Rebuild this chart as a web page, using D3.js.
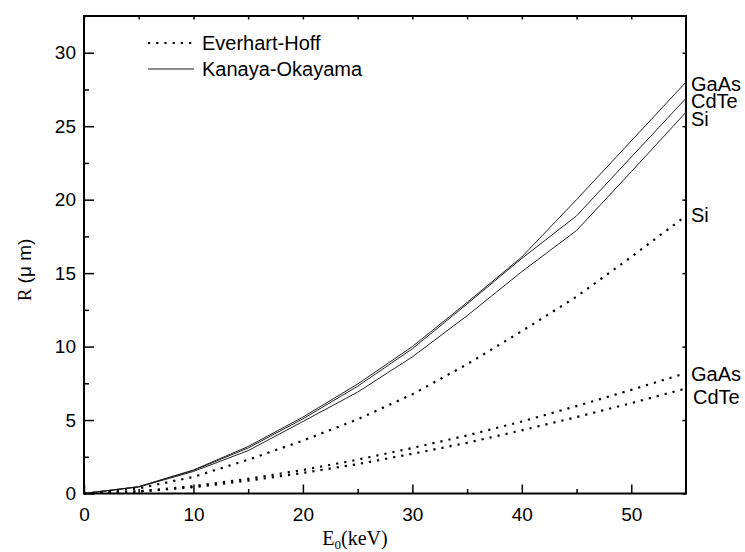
<!DOCTYPE html>
<html>
<head>
<meta charset="utf-8">
<script src="https://cdn.jsdelivr.net/npm/d3@7"></script>
<style>
  body { margin: 0; background: #fff; }
  .tick text { font-family: Arial, "Liberation Sans", sans-serif; font-size: 19px; fill: #000; }
  .tick line { stroke: #000; stroke-width: 1.5; }
</style>
</head>
<body>
<div id="chart"></div>
<script>

// beam energy (keV)
var energy = [0, 5, 10, 15, 20, 25, 30, 35, 40, 45, 50, 55];

// Kanaya-Okayama range (um)
var koGaAs = [0, 0.47, 1.6, 3.2, 5.2, 7.45, 10.0, 13.0, 16.1, 20.0, 24.0, 28.0];
var koCdTe = [0, 0.46, 1.57, 3.1, 5.08, 7.3, 9.85, 12.9, 16.0, 18.9, 22.9, 26.9];
var koSi   = [0, 0.44, 1.5, 2.92, 4.9, 6.9, 9.3, 12.1, 15.1, 17.9, 21.9, 25.95];

// Everhart-Hoff range (um)
var ehSi   = [0, 0.35, 1.13, 2.3, 3.6, 5.05, 6.75, 8.8, 11.05, 13.4, 16.1, 18.9];
var ehGaAs = [0, 0.15, 0.5, 1.0, 1.6, 2.3, 3.1, 3.95, 4.9, 5.95, 7.05, 8.2];
var ehCdTe = [0, 0.13, 0.43, 0.87, 1.4, 2.0, 2.7, 3.45, 4.3, 5.2, 6.15, 7.15];

var xMajor = [0, 10, 20, 30, 40, 50],
    xMinor = [5, 15, 25, 35, 45],
    yMajor = [0, 5, 10, 15, 20, 25, 30],
    yMinor = [2.5, 7.5, 12.5, 17.5, 22.5, 27.5];

var legendNames = ["Everhart-Hoff", "Kanaya-Okayama"];

var series = [
  { name: "GaAs", values: koGaAs, dotted: false, dy: 9 },
  { name: "CdTe", values: koCdTe, dotted: false, dy: 10 },
  { name: "Si",   values: koSi,   dotted: false, dy: 14 },
  { name: "Si",   values: ehSi,   dotted: true,  dy: 6 },
  { name: "GaAs", values: ehGaAs, dotted: true,  dy: 8 },
  { name: "CdTe", values: ehCdTe, dotted: true,  dy: 16, dx: 2 }
];

var W = 745, H = 552;
var margin = { left: 84, right: 59, top: 16, bottom: 58.5 };

var svg = d3.select("#chart").append("svg").attr("width", W).attr("height", H);

var x = d3.scaleLinear().domain([0, 55]).range([margin.left, W - margin.right]),
    y = d3.scaleLinear().domain([0, 32.5]).range([H - margin.bottom, margin.top]);

var bottom = H - margin.bottom, right = W - margin.right;

// axes (ticks point inward)
svg.append("g").attr("transform", "translate(0," + bottom + ")")
   .call(d3.axisBottom(x).tickValues(xMajor).tickSize(-9).tickPadding(14).tickFormat(d3.format("d")))
   .call(function(g) { g.select(".domain").remove(); g.selectAll("text").attr("dy", "0.71em"); });

svg.append("g").attr("transform", "translate(0," + bottom + ")")
   .call(d3.axisBottom(x).tickValues(xMinor).tickSize(-4.5).tickFormat(""))
   .call(function(g) { g.select(".domain").remove(); });

svg.append("g").attr("transform", "translate(" + margin.left + ",0)")
   .call(d3.axisLeft(y).tickValues(yMajor).tickSize(-10).tickPadding(8).tickFormat(d3.format("d")))
   .call(function(g) { g.select(".domain").remove(); });

svg.append("g").attr("transform", "translate(" + margin.left + ",0)")
   .call(d3.axisLeft(y).tickValues(yMinor).tickSize(-5).tickFormat(""))
   .call(function(g) { g.select(".domain").remove(); });

// small ticks on top and right
svg.append("g").attr("transform", "translate(0," + margin.top + ")")
   .call(d3.axisTop(x).tickValues(xMajor.concat(xMinor)).tickSize(-3.5).tickFormat(""))
   .call(function(g) { g.select(".domain").remove(); });

svg.append("g").attr("transform", "translate(" + right + ",0)")
   .call(d3.axisRight(y).tickValues(yMajor).tickSize(-3.5).tickFormat(""))
   .call(function(g) { g.select(".domain").remove(); });

// frame
svg.append("rect")
   .attr("x", margin.left).attr("y", margin.top)
   .attr("width", right - margin.left).attr("height", bottom - margin.top)
   .attr("fill", "none").attr("stroke", "#000").attr("stroke-width", 2);

// curves
var line = d3.line()
  .x(function(d, i) { return x(energy[i]); })
  .y(function(d) { return y(d); });

svg.selectAll(".curve").data(series).enter().append("path")
   .attr("class", "curve")
   .attr("d", function(d) { return line(d.values); })
   .attr("fill", "none")
   .attr("stroke", function(d) { return d.dotted ? "#000" : "#222"; })
   .attr("stroke-width", function(d) { return d.dotted ? 2.2 : 1; })
   .attr("stroke-dasharray", function(d) { return d.dotted ? "2.2,6" : null; });

// end labels
svg.selectAll(".endlabel").data(series).enter().append("text")
   .attr("class", "endlabel")
   .attr("x", function(d) { return right + 5 + (d.dx || 0); })
   .attr("y", function(d) { return y(d.values[d.values.length - 1]) + d.dy; })
   .style("font-family", "Arial, 'Liberation Sans', sans-serif")
   .style("font-size", "20px")
   .text(function(d) { return d.name; });

// legend
var legend = svg.append("g").attr("transform", "translate(148,43)");

legend.selectAll("line").data(legendNames).enter().append("line")
   .attr("x1", 0).attr("x2", function(d, i) { return i ? 46 : 44; })
   .attr("y1", function(d, i) { return i * 26; }).attr("y2", function(d, i) { return i * 26; })
   .attr("stroke", function(d, i) { return i ? "#666" : "#000"; })
   .attr("stroke-width", function(d, i) { return i ? 1.5 : 2.2; })
   .attr("stroke-dasharray", function(d, i) { return i ? null : "2.2,6"; });

legend.selectAll("text").data(legendNames).enter().append("text")
   .attr("x", 54).attr("y", function(d, i) { return i * 26 + 6.5; })
   .style("font-family", "Arial, 'Liberation Sans', sans-serif")
   .style("font-size", "20px")
   .text(function(d) { return d; });

// axis titles
var xt = svg.append("text")
   .attr("x", 355).attr("y", 545)
   .attr("text-anchor", "middle")
   .style("font-family", "'Times New Roman', 'Liberation Serif', serif")
   .style("font-size", "20px");
xt.append("tspan").text("E");
xt.append("tspan").attr("dy", 4).style("font-size", "13px").text("0");
xt.append("tspan").attr("dy", -4).text("(keV)");

var yt = svg.append("text")
   .attr("transform", "translate(31," + 270 + ") rotate(-90)")
   .attr("text-anchor", "middle")
   .style("font-family", "Arial, 'Liberation Sans', sans-serif")
   .style("font-size", "19px");
yt.append("tspan").style("font-family", "'Times New Roman', 'Liberation Serif', serif").text("R");
yt.append("tspan").text(" (\u03bc m)");

</script>
</body>
</html>
